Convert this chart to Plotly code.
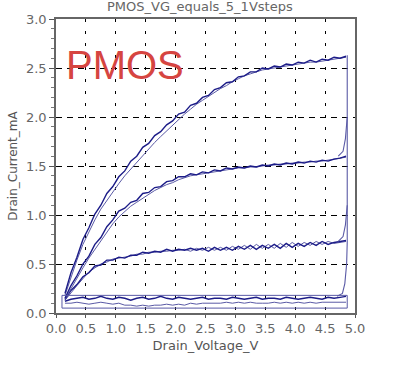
import plotly.graph_objects as go

# Drain voltage grid (V)
vd = [round(0.15 + 0.1 * k, 2) for k in range(48)]

# Drain current (mA) for each gate step, forward and return sweep
id_vg4_fwd = [0.20,0.41,0.57,0.75,0.87,1.01,1.10,1.22,1.29,1.39,1.45,1.55,1.60,1.69,1.73,1.81,1.85,1.92,1.96,2.03,2.05,2.12,2.14,2.20,2.22,2.28,2.30,2.35,2.36,2.41,2.42,2.46,2.46,2.50,2.49,2.52,2.51,2.54,2.53,2.56,2.55,2.58,2.56,2.59,2.58,2.61,2.60,2.62]
id_vg4_rev = [0.18,0.37,0.54,0.70,0.83,0.95,1.06,1.15,1.24,1.32,1.40,1.47,1.54,1.61,1.67,1.74,1.80,1.86,1.92,1.98,2.03,2.08,2.13,2.17,2.21,2.25,2.29,2.32,2.36,2.39,2.42,2.44,2.46,2.48,2.49,2.50,2.51,2.52,2.53,2.54,2.55,2.56,2.56,2.57,2.58,2.59,2.60,2.61]
id_vg3_fwd = [0.15,0.28,0.38,0.50,0.58,0.70,0.77,0.88,0.95,1.04,1.07,1.13,1.15,1.22,1.23,1.28,1.29,1.34,1.35,1.39,1.39,1.42,1.41,1.44,1.43,1.46,1.45,1.48,1.47,1.49,1.48,1.50,1.49,1.51,1.50,1.52,1.51,1.53,1.52,1.54,1.53,1.55,1.54,1.56,1.55,1.57,1.58,1.60]
id_vg3_rev = [0.14,0.25,0.36,0.46,0.56,0.65,0.74,0.83,0.91,0.98,1.04,1.09,1.13,1.17,1.21,1.25,1.28,1.31,1.33,1.36,1.38,1.40,1.41,1.42,1.43,1.44,1.45,1.46,1.47,1.48,1.48,1.49,1.49,1.50,1.51,1.51,1.52,1.52,1.53,1.53,1.54,1.54,1.55,1.55,1.56,1.57,1.58,1.59]
id_vg2_fwd = [0.14,0.23,0.29,0.37,0.41,0.48,0.49,0.54,0.54,0.57,0.56,0.59,0.59,0.62,0.61,0.63,0.62,0.65,0.63,0.65,0.64,0.66,0.64,0.66,0.63,0.67,0.64,0.67,0.64,0.68,0.65,0.69,0.65,0.69,0.66,0.70,0.66,0.71,0.67,0.71,0.68,0.72,0.69,0.73,0.70,0.72,0.73,0.74]
id_vg2_rev = [0.13,0.21,0.28,0.35,0.42,0.46,0.50,0.52,0.55,0.56,0.57,0.58,0.60,0.60,0.62,0.62,0.63,0.63,0.64,0.64,0.65,0.63,0.66,0.64,0.67,0.64,0.67,0.64,0.68,0.65,0.69,0.65,0.70,0.66,0.70,0.66,0.71,0.67,0.72,0.68,0.72,0.69,0.73,0.70,0.73,0.71,0.72,0.73]
id_vg1_fwd = [0.12,0.14,0.15,0.16,0.14,0.15,0.17,0.15,0.14,0.16,0.15,0.13,0.15,0.16,0.14,0.15,0.17,0.15,0.14,0.16,0.15,0.14,0.15,0.16,0.14,0.15,0.15,0.14,0.16,0.15,0.14,0.15,0.16,0.14,0.15,0.15,0.14,0.16,0.15,0.14,0.15,0.16,0.15,0.14,0.16,0.15,0.16,0.17]
id_vg1_rev = [0.10,0.10,0.11,0.10,0.09,0.10,0.11,0.10,0.09,0.10,0.08,0.08,0.07,0.08,0.07,0.08,0.08,0.09,0.08,0.09,0.08,0.10,0.09,0.10,0.10,0.10,0.10,0.11,0.10,0.11,0.10,0.11,0.10,0.10,0.10,0.11,0.10,0.11,0.10,0.11,0.10,0.11,0.10,0.11,0.11,0.11,0.11,0.11]

# Gate-step transitions at the end of the sweep
step_vd = [4.70, 4.79, 4.83, 4.86, 4.87, 4.87, 4.87, 4.87, 4.87, None,
           4.72, 4.80, 4.84, 4.87, None,
           4.72, 4.80, 4.84, 4.87]
step_id = [0.17, 0.20, 0.30, 0.50, 0.72, 1.00, 1.60, 2.20, 2.63, None,
           0.73, 0.78, 0.90, 1.10, None,
           1.60, 1.65, 1.78, 2.00]

# Off-state loop
off_vd = [0.10, 4.87, 4.87, 0.10, 0.10]
off_id = [0.05, 0.05, 0.18, 0.18, 0.05]

dark = "#1c1c88"
light = "#5a5aa6"

fig = go.Figure()
for fwd, rev in [(id_vg1_fwd, id_vg1_rev), (id_vg2_fwd, id_vg2_rev),
                 (id_vg3_fwd, id_vg3_rev), (id_vg4_fwd, id_vg4_rev)]:
    fig.add_trace(go.Scatter(x=vd, y=rev, mode="lines",
                             line=dict(color=light, width=1), showlegend=False))
    fig.add_trace(go.Scatter(x=vd, y=fwd, mode="lines",
                             line=dict(color=dark, width=1.4), showlegend=False))
fig.add_trace(go.Scatter(x=off_vd, y=off_id, mode="lines",
                         line=dict(color=light, width=1), showlegend=False))
fig.add_trace(go.Scatter(x=step_vd, y=step_id, mode="lines",
                         line=dict(color=light, width=1.1), showlegend=False))

font_family = "DejaVu Sans"
fig.update_layout(
    width=418, height=371,
    margin=dict(l=49, r=63, t=19, b=58),
    paper_bgcolor="white", plot_bgcolor="white",
    font=dict(family=font_family, size=13, color="#555"),
    showlegend=False,
)
fig.update_xaxes(
    range=[0, 5], dtick=0.5, tickformat=".1f",
    showgrid=True, gridcolor="black", gridwidth=1, griddash="3px,9px",
    showline=True, linecolor="#666", linewidth=1.5, mirror=True,
    ticks="outside", ticklen=3, tickcolor="#555", zeroline=False,
    tickfont=dict(size=13, color="#666"),
    title=dict(text="Drain_Voltage_V", font=dict(size=13, color="#555"), standoff=6),
)
fig.update_yaxes(
    range=[0, 3], dtick=0.5, tickformat=".1f",
    showgrid=True, gridcolor="black", gridwidth=1, griddash="6px,5px",
    showline=True, linecolor="#666", linewidth=1.5, mirror=True,
    ticks="outside", ticklen=5, tickcolor="#555", zeroline=False,
    minor=dict(dtick=0.1, ticks="outside", ticklen=3, tickcolor="#777", showgrid=False),
    tickfont=dict(size=13, color="#666"),
    title=dict(text="Drain_Current_mA", font=dict(size=12, color="#555"), standoff=6),
)
fig.add_annotation(text="PMOS", xref="paper", yref="paper", x=0.028, y=0.842,
                   xanchor="left", yanchor="middle", showarrow=False,
                   font=dict(family="Liberation Sans", size=40, color="#d64541"))
fig.add_annotation(text="PMOS_VG_equals_5_1Vsteps", xref="paper", yref="paper",
                   x=0.48, y=1.042, xanchor="center", yanchor="middle", showarrow=False,
                   font=dict(family=font_family, size=13, color="#666"))

fig.write_html("out.html")
